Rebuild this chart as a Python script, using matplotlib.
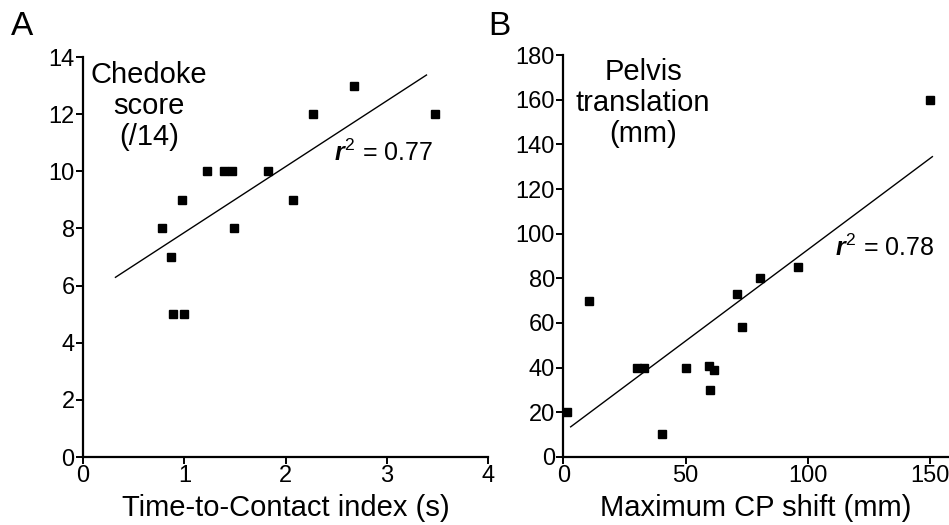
import matplotlib
matplotlib.use("Agg")
import matplotlib.pyplot as plt

plt.rcParams['font.family'] = ['Liberation Sans', 'DejaVu Sans']
plt.rcParams['mathtext.fontset'] = 'custom'
plt.rcParams['mathtext.rm'] = 'Liberation Sans'
plt.rcParams['mathtext.it'] = 'Liberation Sans:italic:bold'

# Panel A: Time-to-Contact index vs Chedoke score
ttc_index = [0.78, 0.87, 0.89, 1.00, 0.98, 1.22, 1.39, 1.47, 1.49, 1.83, 2.07, 2.27, 2.67, 3.47]
chedoke = [8, 7, 5, 5, 9, 10, 10, 10, 8, 10, 9, 12, 13, 12]
fit_a_x = [0.32, 3.39]
fit_a_y = [6.29, 13.37]

# Panel B: Maximum CP shift vs pelvis translation
cp_shift = [1.5, 10.5, 30, 33, 40.5, 50, 59.5, 61.8, 60, 71, 73, 80.5, 96, 150]
pelvis = [20, 70, 40, 40, 10, 40, 40.5, 39, 30, 73, 58, 80, 85, 160]
fit_b_x = [3, 150.9]
fit_b_y = [13.4, 134.5]

tick_font = ['Liberation Sans Narrow', 'Liberation Sans']

fig = plt.figure(figsize=(9.49, 5.25), dpi=100)
axA = fig.add_axes([0.0875, 0.1295, 0.427, 0.7619])
axB = fig.add_axes([0.5936, 0.130, 0.4064, 0.765])


def style(ax):
    for s in ['top', 'right']:
        ax.spines[s].set_visible(False)
    for s in ['left', 'bottom']:
        ax.spines[s].set_linewidth(1.6)
    ax.tick_params(direction='out', length=5, width=1.4, labelsize=17, pad=1)
    for lab in ax.get_xticklabels() + ax.get_yticklabels():
        lab.set_family(tick_font)


axA.plot(fit_a_x, fit_a_y, color='black', lw=1.0)
axA.plot(ttc_index, chedoke, 's', color='black', ms=5.5)
axA.set_xlim(0, 4)
axA.set_ylim(0, 14)
axA.set_xticks([0, 1, 2, 3, 4])
axA.set_yticks(range(0, 15, 2))
style(axA)
axA.set_xlabel('Time-to-Contact index (s)', fontsize=21, labelpad=5)
axA.text(0.65, 12.29, 'Chedoke\nscore\n(/14)', fontsize=21, ha='center', va='center',
         linespacing=1.12)
axA.text(2.97, 10.64, '$r^{2}$ = 0.77', fontsize=18, ha='center', va='center')
fig.text(0.012, 0.950, 'A', fontsize=24, va='center')

axB.plot(fit_b_x, fit_b_y, color='black', lw=1.0)
axB.plot(cp_shift, pelvis, 's', color='black', ms=5.5)
axB.set_xlim(0, 157.7)
axB.set_ylim(0, 180)
axB.set_xticks([0, 50, 100, 150])
axB.set_yticks(range(0, 181, 20))
style(axB)
axB.set_xlabel('Maximum CP shift (mm)', fontsize=21, labelpad=5)
axB.text(32.6, 158.5, 'Pelvis\ntranslation\n(mm)', fontsize=21, ha='center', va='center',
         linespacing=1.12)
axB.text(111, 93.5, '$r^{2}$ = 0.78', fontsize=18, ha='left', va='center')
fig.text(0.515, 0.950, 'B', fontsize=24, va='center')

fig.savefig('out.png', dpi=100)
